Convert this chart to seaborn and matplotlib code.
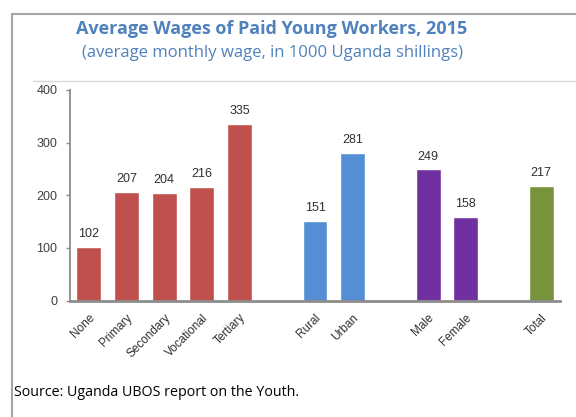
import matplotlib
matplotlib.use("Agg")
import matplotlib.pyplot as plt
import matplotlib.font_manager as fm
import seaborn as sns
import pandas as pd

# Data
categories = ["None", "Primary", "Secondary", "Vocational", "Tertiary",
              "Rural", "Urban", "Male", "Female", "Total"]
wages = [102, 207, 204, 216, 335, 151, 281, 249, 158, 217]
groups = ["Education"] * 5 + ["Location"] * 2 + ["Sex"] * 2 + ["Total"]
group_colors = {"Education": "#C0504D", "Location": "#558ED5",
                "Sex": "#7030A0", "Total": "#77933C"}
y_ticks = [0, 100, 200, 300, 400]

# Slot order with empty spacer slots between groups
order = ["None", "Primary", "Secondary", "Vocational", "Tertiary", "_g1",
         "Rural", "Urban", "_g2", "Male", "Female", "_g3", "Total"]

df = pd.DataFrame({"category": categories, "wage": wages, "group": groups})

sns.set_theme(style="white")
names = {f.name for f in fm.fontManager.ttflist}
narrow = "Liberation Sans Narrow" if "Liberation Sans Narrow" in names else "Liberation Sans"
plt.rcParams["font.family"] = ["DejaVu Sans"]

fig = plt.figure(figsize=(5.76, 4.17), dpi=100)
W, H = 576, 417
ax = fig.add_axes([70 / W, (H - 300.5) / H, 490 / W, (300.5 - 90) / H])

sns.barplot(data=df, x="category", y="wage", hue="group", order=order,
            palette=group_colors, dodge=False, width=0.66, legend=False,
            saturation=1, ax=ax)

ax.set_xlim(-0.5, 12.5)
ax.set_ylim(0, 400)
ax.set_yticks(y_ticks)
ax.set_yticklabels([str(t) for t in y_ticks], fontfamily=narrow, fontsize=9,
                   color="#404040")
ax.set_xlabel("")
ax.set_ylabel("")

# Value labels above bars
for cat, val in zip(categories, wages):
    xi = order.index(cat)
    ax.annotate(str(val), (xi, val), xytext=(0, 5), textcoords="offset points",
                ha="center", va="bottom", fontfamily=narrow, fontsize=9,
                color="#303030")

# Category labels, rotated
ticks = [order.index(c) for c in categories]
ax.set_xticks(ticks)
ax.set_xticklabels(categories, rotation=45, ha="right", rotation_mode="anchor",
                   fontfamily=narrow, fontsize=8.5, color="#303030")
ax.tick_params(axis="x", length=0, pad=8)
ax.tick_params(axis="y", length=3, width=1, color="#8C8C8C", direction="out",
               left=True, pad=6)

for side in ["top", "right"]:
    ax.spines[side].set_visible(False)
ax.spines["left"].set_color("#8C8C8C")
ax.spines["left"].set_linewidth(1.3)
ax.spines["bottom"].set_color("#8C8C8C")
ax.spines["bottom"].set_linewidth(2)

# Frame lines
fig.add_artist(plt.Line2D([12 / W, 1], [1 - 14 / H, 1 - 14 / H], color="#A6A6A6", lw=1.5))
fig.add_artist(plt.Line2D([12 / W, 12 / W], [0, 1 - 14 / H], color="#A6A6A6", lw=1.5))
fig.add_artist(plt.Line2D([33 / W, 1], [1 - 81 / H, 1 - 81 / H], color="#D9D9D9", lw=1))

title_color = "#4F81BD"
fig.text(272 / W, 1 - 29 / H, "Average Wages of Paid Young Workers, 2015",
         ha="center", va="center", fontsize=13, fontweight="bold",
         color=title_color, fontfamily="Open Sans")
fig.text(272 / W, 1 - 53 / H, "(average monthly wage, in 1000 Uganda shillings)",
         ha="center", va="center", fontsize=12, color=title_color,
         fontfamily="Open Sans")
fig.text(14 / W, 1 - 392 / H, "Source: Uganda UBOS report on the Youth.",
         ha="left", va="center", fontsize=10.3, color="#000000",
         fontfamily="Open Sans")

fig.savefig("out.png", dpi=100)
